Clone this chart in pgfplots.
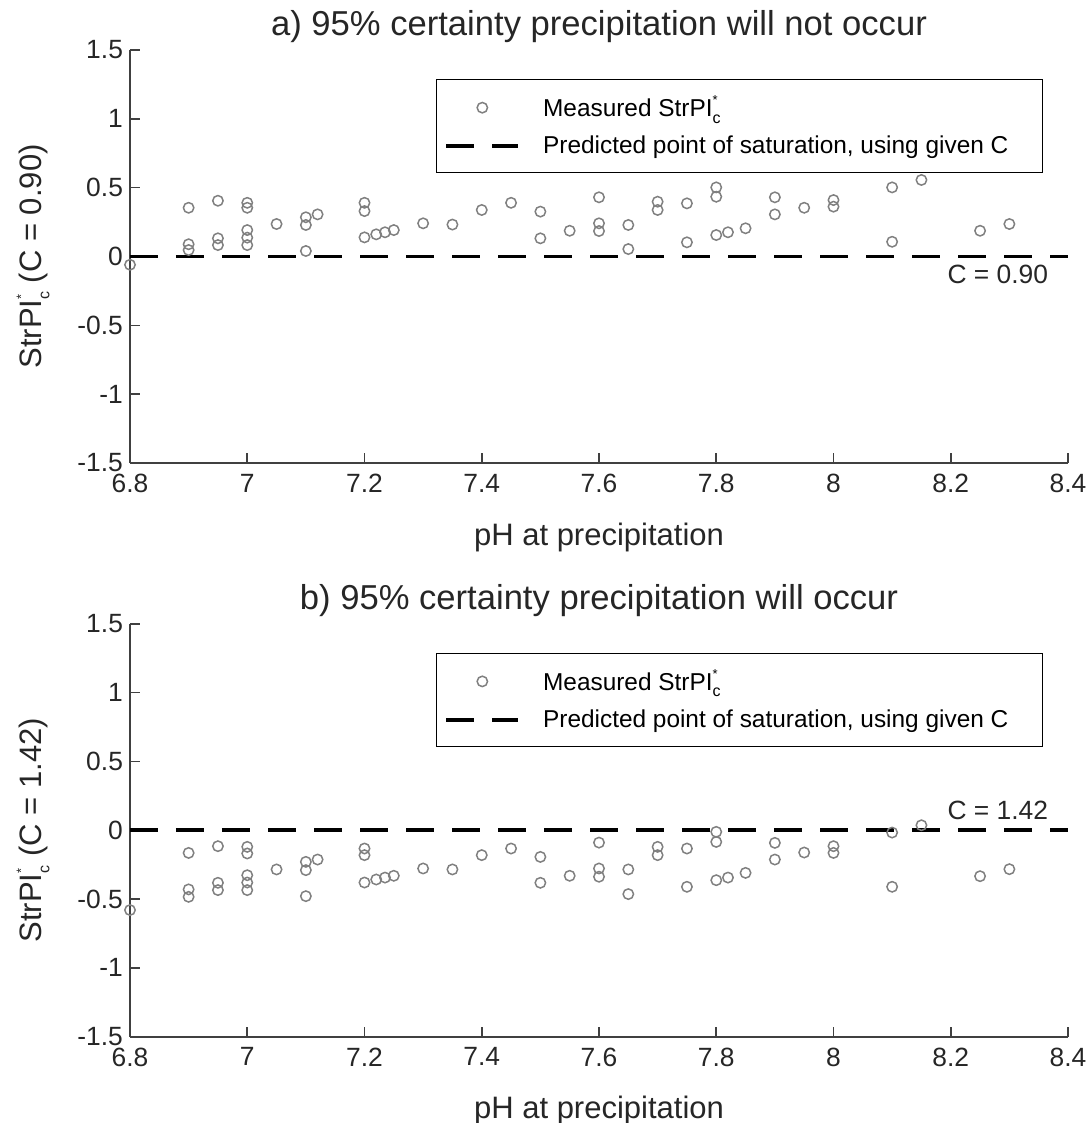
\documentclass[border=0pt]{standalone}
\usepackage{fontspec}
\setmainfont{Liberation Sans}
\usepackage{pgfplots}
\usepackage{pgfplotstable}
\pgfplotsset{compat=1.18}

\pgfplotstableread{
x y
6.80 -0.06
6.90 0.354
6.90 0.089
6.90 0.047
6.95 0.405
6.95 0.132
6.95 0.083
7.00 0.39
7.00 0.354
7.00 0.192
7.00 0.137
7.00 0.083
7.05 0.236
7.10 0.285
7.10 0.229
7.10 0.04
7.12 0.306
7.20 0.39
7.20 0.33
7.20 0.139
7.22 0.161
7.235 0.176
7.25 0.192
7.30 0.241
7.35 0.232
7.40 0.338
7.45 0.39
7.50 0.326
7.50 0.132
7.55 0.187
7.60 0.43
7.60 0.241
7.60 0.185
7.65 0.229
7.65 0.054
7.70 0.398
7.70 0.338
7.75 0.386
7.75 0.103
7.80 0.502
7.80 0.434
7.80 0.156
7.82 0.176
7.85 0.205
7.90 0.43
7.90 0.306
7.95 0.354
8.00 0.41
8.00 0.362
8.10 0.502
8.10 0.107
8.15 0.556
8.25 0.187
8.30 0.236
}\dataA

\pgfplotstableread{
x y
6.80 -0.58
6.90 -0.165
6.90 -0.43
6.90 -0.484
6.95 -0.116
6.95 -0.382
6.95 -0.435
7.00 -0.121
7.00 -0.169
7.00 -0.327
7.00 -0.38
7.00 -0.435
7.05 -0.285
7.10 -0.23
7.10 -0.29
7.10 -0.479
7.12 -0.213
7.20 -0.133
7.20 -0.181
7.20 -0.38
7.22 -0.358
7.235 -0.344
7.25 -0.331
7.30 -0.278
7.35 -0.285
7.40 -0.181
7.45 -0.133
7.50 -0.194
7.50 -0.382
7.55 -0.331
7.60 -0.09
7.60 -0.278
7.60 -0.338
7.65 -0.285
7.65 -0.464
7.70 -0.121
7.70 -0.181
7.75 -0.133
7.75 -0.411
7.80 -0.012
7.80 -0.085
7.80 -0.363
7.82 -0.344
7.85 -0.31
7.90 -0.092
7.90 -0.213
7.95 -0.162
8.00 -0.116
8.00 -0.165
8.10 -0.017
8.10 -0.411
8.15 0.036
8.25 -0.334
8.30 -0.283
}\dataB

\pgfplotsset{
  panel/.style={
    scale only axis, width=469pt, height=206.5pt,
    xmin=6.8, xmax=8.4, ymin=-1.5, ymax=1.5,
    axis lines=left,
    axis line style={-, black!75, line width=0.8pt},
    tick style={black!75, line width=0.8pt},
    tick align=inside, major tick length=5pt,
    xtick={6.8,7,7.2,7.4,7.6,7.8,8,8.2,8.4},
    xticklabels={6.8,7,7.2,7.4,7.6,7.8,8,8.2,8.4},
    ytick={-1.5,-1,-0.5,0,0.5,1,1.5},
    yticklabels={-1.5,-1,-0.5,0,0.5,1,1.5},
    tick label style={font=\fontsize{13.2}{15}\selectfont, text=black!85},
    xticklabel style={yshift=-2pt},
    label style={font=\fontsize{15.5}{18}\selectfont, text=black!85},
    title style={font=\fontsize{17.3}{20}\selectfont, text=black!85, yshift=-6pt},
    xlabel={pH at precipitation},
    xlabel style={at={(axis description cs:0.5,0)}, anchor=center, yshift=-37pt},
    ylabel style={at={(axis description cs:-0.1034,0.5)}, anchor=center},
    legend style={at={(rel axis cs:0.9733,0.9298)}, anchor=north east,
      draw=black, line width=0.6pt, font=\fontsize{12.2}{14}\selectfont,
      inner xsep=4pt, inner ysep=6pt, row sep=4pt,
      /tikz/every odd column/.append style={column sep=9.5pt}},
    legend cell align=left,
  },
  scat/.style={only marks, mark=o, mark size=2.6pt, draw=black!50,
    mark options={line width=0.75pt, draw=black!50},
    legend image code/.code={\draw[mark repeat=2,mark phase=2,##1] plot coordinates {(0pt,0pt) (18pt,0pt) (36pt,0pt)};}},
  dline/.style={black, line width=1.8pt, dash pattern=on 11pt off 12pt,
    legend image code/.code={\draw[##1] (0pt,0pt) -- (36pt,0pt);}},
}

\newcommand{\strpi}{StrPI\rlap{\raisebox{0.95ex}{\fontsize{6.5}{7}\selectfont *}}\raisebox{-0.5ex}{\fontsize{8}{9}\selectfont c}}

\begin{document}
\begin{tikzpicture}
\begin{axis}[panel, at={(0pt,0pt)}, anchor=south west,
  title={a) 95\% certainty precipitation will not occur},
  ylabel={\strpi\ (C = 0.90)}]
\addplot[scat] table[x=x,y=y] {\dataA};
\addlegendentry{Measured \strpi}
\addplot[dline, dash pattern=on 14pt off 9pt] coordinates {(6.8,0) (8.4,0)};
\addlegendentry{Predicted point of saturation, using given C\rule{11pt}{0pt}}
\node[anchor=east, font=\fontsize{13.2}{15}\selectfont, text=black!85] at (axis cs:8.378,-0.133) {C = 0.90};
\end{axis}
\begin{axis}[panel, at={(0pt,-286.85pt)}, anchor=south west,
  title={b) 95\% certainty precipitation will occur},
  ylabel={\strpi\ (C = 1.42)}]
\addplot[scat] table[x=x,y=y] {\dataB};
\addlegendentry{Measured \strpi}
\addplot[dline, dash pattern=on 14pt off 9pt] coordinates {(6.8,0) (8.4,0)};
\addlegendentry{Predicted point of saturation, using given C\rule{11pt}{0pt}}
\node[anchor=east, font=\fontsize{13.2}{15}\selectfont, text=black!85] at (axis cs:8.378,0.145) {C = 1.42};
\end{axis}
\pgfresetboundingbox
\path (-65pt,231.5pt) rectangle (480.5pt,-330pt);
\end{tikzpicture}
\end{document}
